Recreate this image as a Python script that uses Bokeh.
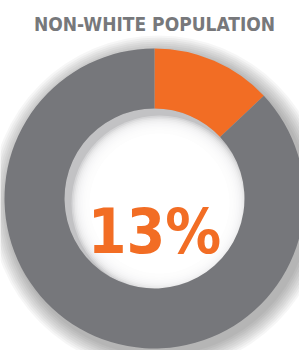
import numpy as np
from bokeh.plotting import figure
from bokeh.models import ColumnDataSource, Range1d
from bokeh.core.properties import value
from bokeh.embed import file_html
from bokeh.resources import INLINE

# ---- data ----
title_text = "NON-WHITE POPULATION"
labels = ["Non-white", "White"]
shares = [13, 87]
colors = ["#f26d24", "#76777b"]
center_label = "13%"

W, H = 299, 350
p = figure(width=W, height=H, output_backend="svg", toolbar_location=None,
           x_range=Range1d(0, W), y_range=Range1d(0, H), min_border=0)
p.axis.visible = False
p.grid.visible = False
p.outline_line_color = None
p.background_fill_color = "white"
p.border_fill_color = "white"

cx, cy = 154, 152
r_out, r_in = 150, 90

# soft drop shadow behind ring (down-right)
for k in range(18, 0, -2):
    p.circle(x=[cx + 4], y=[cy - 5], radius=r_out + k, fill_color="#000000",
             fill_alpha=0.035, line_color=None)

# inner hole shadow (top-left inside the hole)
p.circle(x=[cx], y=[cy], radius=r_in, fill_color="#c2c2c4", line_color=None)
for k in range(10):
    p.circle(x=[cx + 5], y=[cy - 5], radius=r_in - 2 - k * 1.6,
             fill_color="white", fill_alpha=0.3, line_color=None)
p.circle(x=[cx + 5], y=[cy - 5], radius=r_in - 20,
         fill_color="white", fill_alpha=1.0, line_color=None)

frac = np.array(shares, dtype=float) / sum(shares)
ends = np.pi / 2 - np.concatenate([[0], np.cumsum(frac)[:-1]]) * 2 * np.pi
starts = ends - frac * 2 * np.pi
src = ColumnDataSource(dict(label=labels, start=starts, end=ends, color=colors))
p.annular_wedge(x=cx, y=cy, inner_radius=r_in, outer_radius=r_out,
                start_angle="start", end_angle="end", fill_color="color",
                line_color=None, source=src)

p.text(x=[cx], y=[H - 23], text=[title_text], text_align="center",
       text_baseline="alphabetic", text_font=value("DejaVu Sans Condensed"),
       text_font_style="bold", text_font_size="19px", text_color="#77787b")

p.text(x=[cx], y=[cy - 33], text=[center_label], text_align="center",
       text_baseline="alphabetic", text_font=value("DejaVu Sans Condensed"),
       text_font_style="bold", text_font_size="62px", text_color="#f26d24")

open("out.html", "w").write(file_html(p, INLINE))
